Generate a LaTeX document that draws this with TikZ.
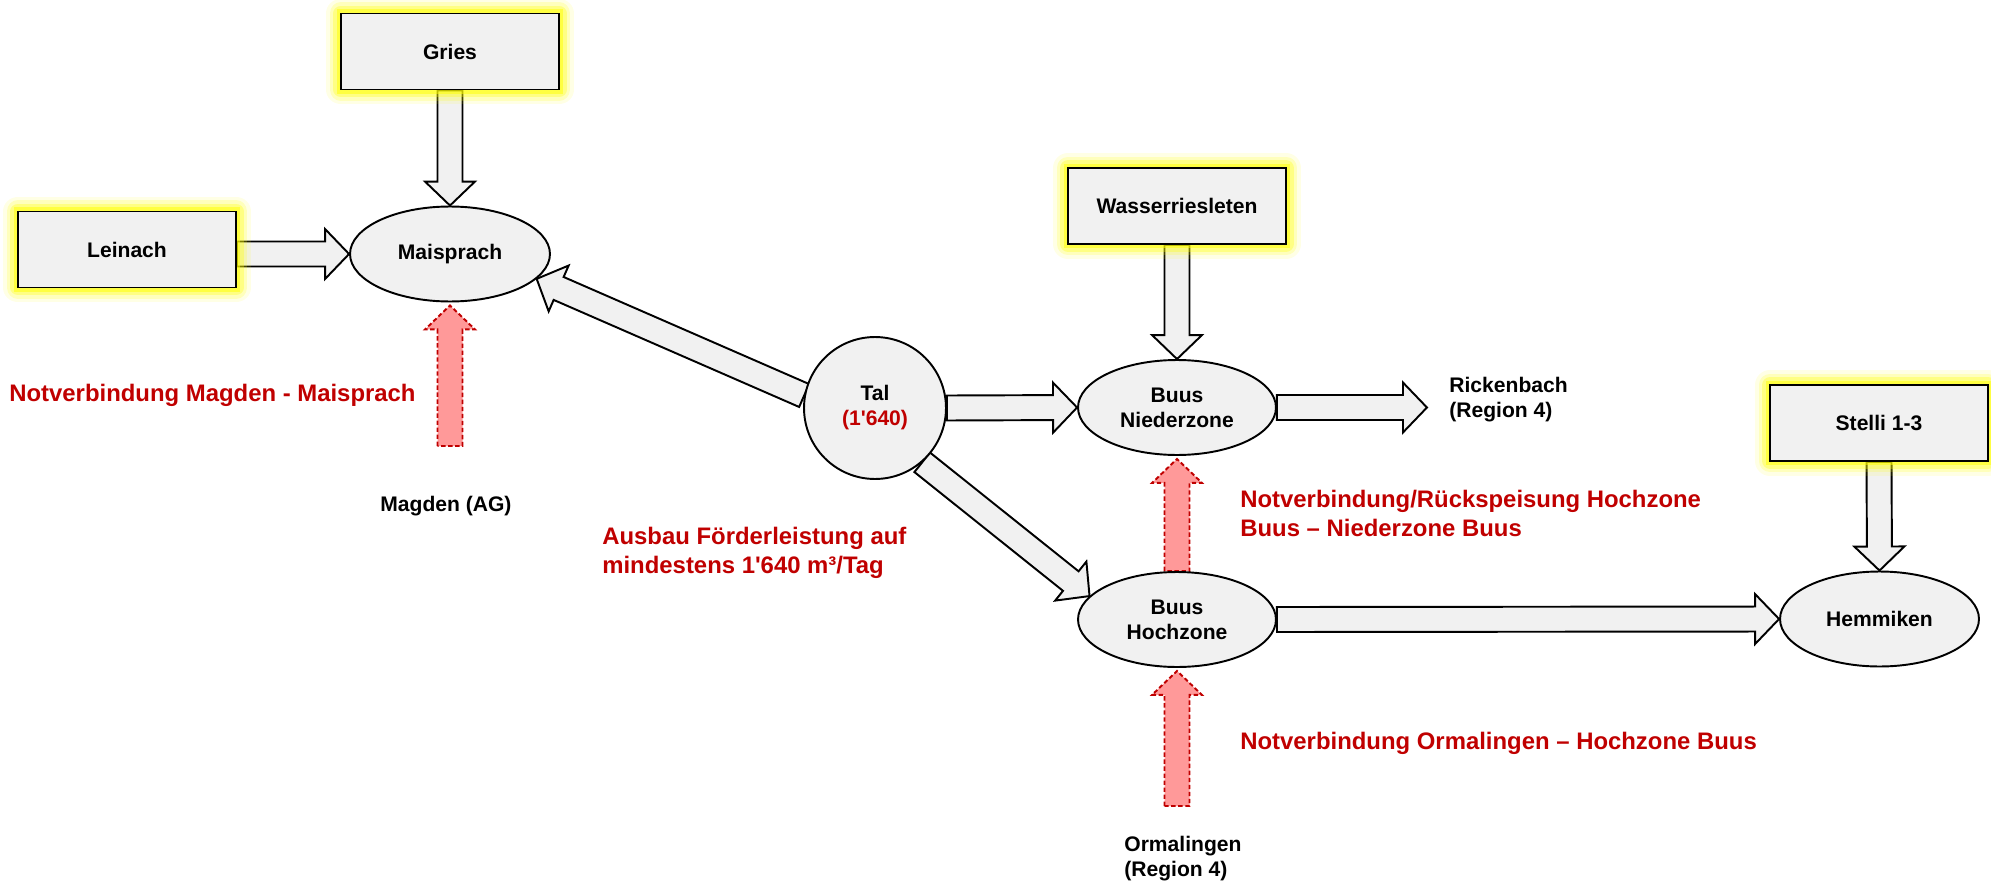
\documentclass[tikz,border=0pt]{standalone}
\usepackage{fontspec}
\setmainfont{Liberation Sans}
\usetikzlibrary{shapes,calc,backgrounds}

\definecolor{boxgray}{HTML}{F1F1F1}
\definecolor{notred}{HTML}{C00000}
\definecolor{notpink}{HTML}{FF9999}
\definecolor{glowyellow}{HTML}{FFFF00}

\newcommand{\apos}{\textquotesingle}
% block arrow from #2 to #3 (tip), style #1
\newcommand{\fatarrow}[3][pipe]{%
  \coordinate (fa-base) at ($(#3)!0.48cm!(#2)$);
  \draw[#1] ($(#2)!0.25cm!90:(#3)$) -- ($(fa-base)!0.25cm!90:(#3)$)
    -- ($(fa-base)!0.5cm!90:(#3)$) -- (#3) -- ($(fa-base)!0.5cm!-90:(#3)$)
    -- ($(fa-base)!0.25cm!-90:(#3)$) -- ($(#2)!0.25cm!-90:(#3)$) -- cycle;
}

\tikzset{
  every node/.style={font=\bfseries\fontsize{12}{14.2}\selectfont, align=center},
  glow/.style={preaction={draw=glowyellow, line width=17pt, opacity=0.1, line join=round},
               preaction={draw=glowyellow, line width=13pt, opacity=0.18, line join=round},
               preaction={draw=glowyellow, line width=9pt, opacity=0.3, line join=round},
               preaction={draw=glowyellow, line width=5pt, opacity=0.5}},
  source/.style={rectangle, draw, fill=boxgray, line width=1.1pt,
                 minimum width=4.36cm, minimum height=1.52cm, glow},
  zone/.style={ellipse, draw, fill=boxgray, line width=1.1pt, inner sep=0pt,
               minimum width=3.96cm, minimum height=1.9cm},
  town/.style={inner sep=0pt, align=left},
  note/.style={inner sep=0pt, align=left, text=notred,
               font=\bfseries\fontsize{13.6}{16.4}\selectfont},
  pipe/.style={draw, fill=boxgray, line width=1.1pt, line join=miter},
  emergency/.style={draw=notred, fill=notpink, line width=1.1pt,
                    dash pattern=on 2.5pt off 1.5pt, line join=miter}
}

\begin{document}
\begin{tikzpicture}[x=0.02cm, y=-0.02cm]
\useasboundingbox (0,0) rectangle (1991,882);

% sources
\node [source] (gries) at (450,51.5) {Gries};
\node [source] (leinach) at (127,249.5) {Leinach};
\node [source] (wasser) at (1177,206) {Wasserriesleten};
\node [source] (stelli) at (1879,423) {Stelli 1-3};

% zones
\node [zone, minimum width=4cm] (maisprach) at (450,254) {Maisprach};
\node [circle, draw, fill=boxgray, line width=1.1pt, minimum size=2.84cm] (tal) at (875,408)
  {Tal\\\textcolor{notred}{(1\apos640)}};
\node [zone] (nieder) at (1177,407.5) {Buus\\Niederzone};
\node [zone] (hoch) at (1177,619.5) {Buus\\Hochzone};
\node [zone, minimum width=3.98cm] (hemmiken) at (1879.5,619) {Hemmiken};

% outside places and notes
\node [town, anchor=west] (magden) at (380,506) {Magden (AG)};
\node [town, anchor=west] (ricken) at (1449,399.5) {Rickenbach\\(Region 4)};
\node [town, anchor=west] (ormal) at (1124,858.5) {Ormalingen\\(Region 4)};
\node [note, anchor=west] (magden-note) at (9,395) {Notverbindung Magden - Maisprach};
\node [note, anchor=west] (ausbau) at (602,552.5) {Ausbau Förderleistung auf\\mindestens 1\apos640 m³/Tag};
\node [note, anchor=west] (rueck) at (1240,513.5) {Notverbindung/Rückspeisung Hochzone\\Buus -- Niederzone Buus};
\node [note, anchor=west] (ormal-note) at (1240,743) {Notverbindung Ormalingen -- Hochzone Buus};

\coordinate (leinach-out) at (leinach.east |- maisprach.west);
\coordinate (ricken-in) at ($(nieder.east)+(150,0)$);
\coordinate (magden-in) at (450,446);
\coordinate (magden-tip) at ($(maisprach.south)+(0,3)$);
\coordinate (nieder-tip) at ($(nieder.south)+(0,3)$);
\coordinate (ormal-in) at (1177,806);
\coordinate (hoch-tip) at ($(hoch.south)+(0,3)$);

\begin{scope}[on background layer]
\fatarrow{gries.south}{maisprach.north}
\fatarrow{leinach-out}{maisprach.west}
\fatarrow{tal.170}{maisprach.-16}
\fatarrow{tal.east}{nieder.west}
\fatarrow{tal.-49}{hoch.165}
\fatarrow{wasser.south}{nieder.north}
\fatarrow{nieder.east}{ricken-in}
\fatarrow{hoch.east}{hemmiken.west}
\fatarrow{stelli.south}{hemmiken.north}
\fatarrow[emergency]{magden-in}{magden-tip}
\fatarrow[emergency]{hoch.north}{nieder-tip}
\fatarrow[emergency]{ormal-in}{hoch-tip}
\end{scope}
\end{tikzpicture}
\end{document}
